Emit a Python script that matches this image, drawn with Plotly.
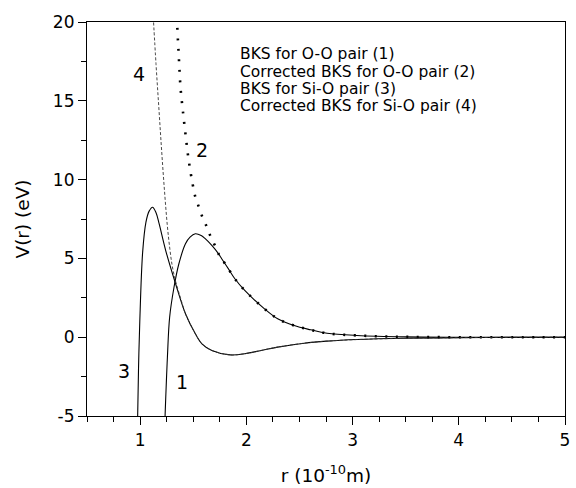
import plotly.graph_objects as go

# BKS short-range pair potentials, r in 1e-10 m, V in eV

# (1) BKS, O-O pair
r_oo = [1.235, 1.257, 1.278, 1.319, 1.365, 1.427, 1.47, 1.52, 1.575, 1.613,
        1.675, 1.737, 1.768, 1.83, 1.892, 1.985, 2.171, 2.295, 2.45, 2.605,
        2.76, 3.04, 3.5, 4.0, 4.5, 5.0]
v_oo = [-5.0, -1.27, 1.27, 3.17, 4.66, 5.93, 6.35, 6.56, 6.45, 6.25,
        5.82, 5.30, 4.98, 4.35, 3.71, 2.97, 1.80, 1.17, 0.74, 0.47,
        0.25, 0.11, 0.02, 0.0, 0.0, 0.0]

# (2) corrected BKS, O-O pair: repulsive head, then coincides with (1)
r_oo_corr_head = [1.345, 1.365, 1.381, 1.402, 1.427, 1.458, 1.495, 1.52,
                  1.551, 1.588, 1.628, 1.666, 1.716]
v_oo_corr_head = [20.3, 17.7, 15.8, 14.4, 12.9, 11.2, 9.7, 8.9,
                  8.3, 7.6, 7.0, 6.35, 5.65]

# (3) BKS, Si-O pair
r_sio = [0.977, 0.985, 0.997, 1.024, 1.055, 1.085, 1.117, 1.15, 1.179, 1.241,
         1.334, 1.427, 1.52, 1.582, 1.675, 1.846, 1.985, 2.14, 2.295, 2.544,
         2.76, 3.04, 3.5, 4.0, 4.5, 5.0]
v_sio = [-5.0, -2.0, 1.0, 5.4, 7.3, 8.0, 8.25, 7.9, 7.2, 5.5,
         3.39, 1.49, 0.22, -0.42, -0.84, -1.12, -1.05, -0.84, -0.63, -0.38,
         -0.25, -0.15, -0.07, -0.03, -0.01, 0.0]

# (4) corrected BKS, Si-O pair: repulsive head, then coincides with (3)
r_sio_corr_head = [1.124, 1.15, 1.175, 1.2, 1.226, 1.256, 1.28, 1.303, 1.334, 1.38]
v_sio_corr_head = [20.3, 17.3, 14.7, 12.1, 9.6, 7.1, 5.6, 4.5, 3.55, 2.5]

legend_lines = [
    "BKS for O-O pair (1)",
    "Corrected BKS for O-O pair (2)",
    "BKS for Si-O pair (3)",
    "Corrected BKS for Si-O pair (4)",
]

x_ticks = [1, 2, 3, 4, 5]
y_ticks = [-5, 0, 5, 10, 15, 20]
y_tick_text = ["-5", "0", "5", "10", "15", "20"]

# tail of each corrected curve taken from its BKS counterpart
tail_oo = [i for i, r in enumerate(r_oo) if r > r_oo_corr_head[-1]]
tail_sio = [i for i, r in enumerate(r_sio) if r > r_sio_corr_head[-1]]
r_oo_corr = r_oo_corr_head + [r_oo[i] for i in tail_oo]
v_oo_corr = v_oo_corr_head + [v_oo[i] for i in tail_oo]
r_sio_corr = r_sio_corr_head + [r_sio[i] for i in tail_sio]
v_sio_corr = v_sio_corr_head + [v_sio[i] for i in tail_sio]

FONT = "DejaVu Sans, Liberation Sans, sans-serif"

fig = go.Figure()
fig.add_trace(go.Scatter(x=r_oo, y=v_oo, mode="lines",
                         line=dict(color="black", width=1.1, shape="spline")))
fig.add_trace(go.Scatter(x=r_sio, y=v_sio, mode="lines",
                         line=dict(color="black", width=1.1, shape="spline")))
fig.add_trace(go.Scatter(x=r_oo_corr, y=v_oo_corr, mode="lines",
                         line=dict(color="black", width=2.6, dash="2px,8.5px",
                                   shape="spline")))
fig.add_trace(go.Scatter(x=r_sio_corr, y=v_sio_corr, mode="lines",
                         line=dict(color="#333333", width=0.9, dash="3px,2px",
                                   shape="spline")))

# curve numbers
for txt, x, y in [("1", 1.39, -2.86), ("2", 1.582, 11.85),
                  ("3", 0.844, -2.13), ("4", 0.987, 16.72)]:
    fig.add_annotation(x=x, y=y, text=txt, showarrow=False,
                       font=dict(family=FONT, size=19, color="black"))

# legend text block
for i, line in enumerate(legend_lines):
    fig.add_annotation(x=1.923, y=17.95 - 1.1 * i, text=line, showarrow=False,
                       xanchor="left", yanchor="middle",
                       font=dict(family=FONT, size=15.5, color="black"))

axis_common = dict(showline=True, linecolor="black", linewidth=1.2, mirror=True,
                   ticks="outside", ticklen=8, tickwidth=1.1, tickcolor="black",
                   showgrid=False, zeroline=False,
                   tickfont=dict(family=FONT, size=17, color="black"))

fig.update_xaxes(range=[0.5, 5], tickvals=x_ticks,
                 minor=dict(ticks="outside", ticklen=5, tickwidth=1.1,
                            tickcolor="black", dtick=0.25, tick0=0, showgrid=False),
                 title=dict(text="r (10<sup>-10</sup>m)", standoff=20,
                            font=dict(family=FONT, size=18.5, color="black")),
                 **axis_common)
fig.update_yaxes(range=[-5, 20], tickvals=y_ticks, ticktext=y_tick_text,
                 minor=dict(ticks="outside", ticklen=5, tickwidth=1.1,
                            tickcolor="black", dtick=2.5, tick0=0, showgrid=False),
                 title=dict(text="V(r) (eV)", standoff=18,
                            font=dict(family=FONT, size=18.5, color="black")),
                 **axis_common)

fig.update_layout(width=576, height=488,
                  margin=dict(l=87, r=6, t=22, b=72),
                  plot_bgcolor="white", paper_bgcolor="white",
                  showlegend=False)

fig.write_html("out.html")
